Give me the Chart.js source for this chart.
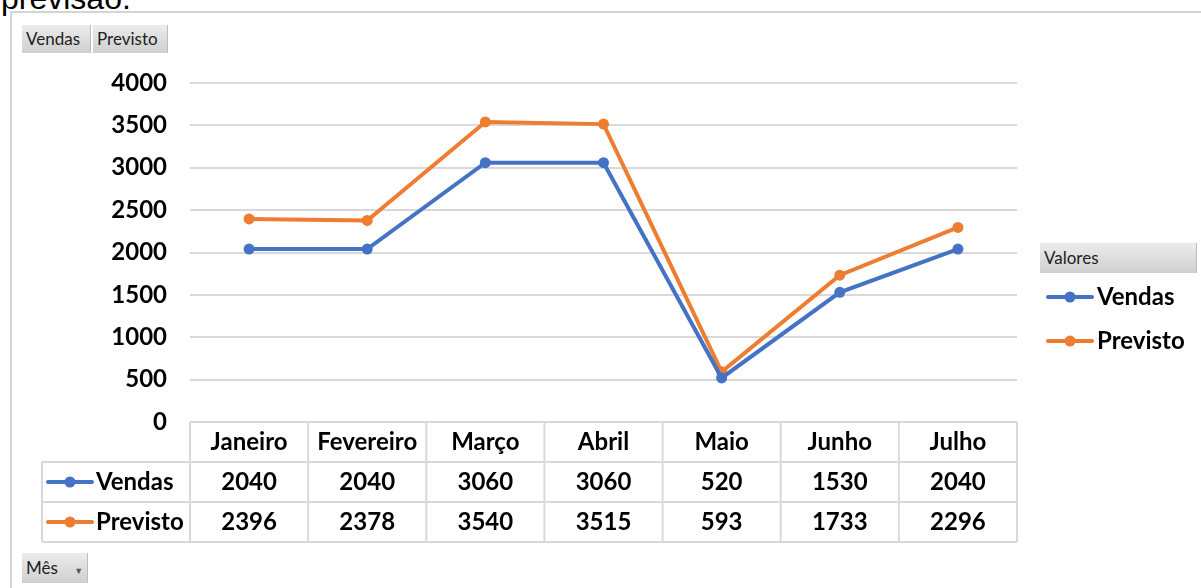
<!DOCTYPE html>
<html lang="pt">
<head>
  <meta charset="UTF-8" />
  <title>Vendas x Previsto</title>
  <style>
    body {
      margin: 0;
      width: 1201px;
      height: 588px;
      overflow: hidden;
      background: #fff;
      position: relative;
      font-family: Lato, 'Open Sans', sans-serif;
    }
    #topText {
      position: absolute;
      left: 1px;
      top: -20px;
      font-family: 'Liberation Sans', Arial, sans-serif;
      font-size: 32px;
      color: #000;
    }
    #frame {
      position: absolute;
      left: 10px;
      top: 11px;
      width: 1200px;
      height: 600px;
      border-left: 2px solid #d4d4d4;
      border-top: 2px solid #d4d4d4;
    }
    .btn {
      position: absolute;
      height: 28px;
      line-height: 28px;
      font-size: 17px;
      color: #222;
      padding-left: 4px;
      box-sizing: border-box;
      background: linear-gradient(#ececec, #cfcfcf);
      border-right: 1px solid #bdbdbd;
    }
    #chartBox {
      position: absolute;
      left: 0;
      top: 0;
      width: 1201px;
      height: 588px;
    }
  </style>
  <script src="https://cdn.jsdelivr.net/npm/chart.js"></script>
</head>
<body>
  <div id="topText">previsão.</div>
  <div id="frame"></div>
  <div id="chartBox"><canvas id="chart" width="1201" height="588"></canvas></div>
  <div class="btn" style="left:22px;top:25px;width:69px;">Vendas</div>
  <div class="btn" style="left:93px;top:25px;width:75px;">Previsto</div>
  <div class="btn" style="left:1040px;top:243px;width:157px;height:30px;line-height:30px;">Valores</div>
  <div class="btn" style="left:22px;top:553px;width:66px;height:30px;line-height:30px;">Mês <span style="font-size:9px;margin-left:12px;color:#555;">&#9660;</span></div>
  <script>
    // chart data
    const meses = ["Janeiro", "Fevereiro", "Março", "Abril", "Maio", "Junho", "Julho"];
    const vendas = [2040, 2040, 3060, 3060, 520, 1530, 2040];
    const previsto = [2396, 2378, 3540, 3515, 593, 1733, 2296];
    const serieNomes = ["Vendas", "Previsto"];
    const cores = ["#4472c4", "#ed7d31"];

    const boldFont = "bold 24px Lato, sans-serif";
    const gridColor = "#d9d9d9";

    function drawKey(ctx, x, y, color) {
      ctx.strokeStyle = color;
      ctx.lineWidth = 4;
      ctx.lineCap = "round";
      ctx.beginPath();
      ctx.moveTo(x, y);
      ctx.lineTo(x + 44, y);
      ctx.stroke();
      ctx.fillStyle = color;
      ctx.beginPath();
      ctx.arc(x + 22, y, 5.5, 0, Math.PI * 2);
      ctx.fill();
    }

    // draws data table under the plot and legend at the right
    const tablePlugin = {
      id: "dataTable",
      afterDraw(chart) {
        const ctx = chart.ctx;
        const xs = chart.scales.x;
        const area = chart.chartArea;
        const n = meses.length;
        const cw = (area.right - area.left) / n;
        const top = area.bottom;
        const rh = 40;
        const leftCol = 42;

        ctx.save();
        ctx.strokeStyle = gridColor;
        ctx.lineWidth = 2;
        ctx.beginPath();
        // horizontal lines
        for (let r = 1; r <= 3; r++) {
          const y = top + r * rh;
          ctx.moveTo(leftCol, y);
          ctx.lineTo(area.right, y);
        }
        // vertical lines
        for (let i = 0; i <= n; i++) {
          const x = area.left + i * cw;
          ctx.moveTo(x, top);
          ctx.lineTo(x, top + 3 * rh);
        }
        ctx.moveTo(leftCol, top + rh);
        ctx.lineTo(leftCol, top + 3 * rh);
        ctx.stroke();

        ctx.font = boldFont;
        ctx.fillStyle = "#000";
        ctx.textAlign = "center";
        ctx.textBaseline = "middle";
        const rows = [vendas, previsto];
        meses.forEach((m, i) => {
          const cx = xs.getPixelForValue(i);
          ctx.fillText(m, cx, top + rh / 2);
          rows.forEach((vals, r) => {
            ctx.fillText(String(vals[i]), cx, top + rh * (r + 1) + rh / 2);
          });
        });

        // row keys
        ctx.textAlign = "left";
        serieNomes.forEach((name, r) => {
          const y = top + rh * (r + 1) + rh / 2;
          drawKey(ctx, 48, y, cores[r]);
          ctx.fillStyle = "#000";
          ctx.fillText(name, 96, y);
        });

        // legend on the right
        serieNomes.forEach((name, r) => {
          const y = 297 + r * 44;
          drawKey(ctx, 1048, y, cores[r]);
          ctx.fillStyle = "#000";
          ctx.fillText(name, 1097, y);
        });
        ctx.restore();
      }
    };

    new Chart(document.getElementById("chart"), {
      type: "line",
      data: {
        labels: meses,
        datasets: [
          {
            label: serieNomes[0],
            data: vendas,
            borderColor: cores[0],
            backgroundColor: cores[0],
            borderWidth: 4,
            pointRadius: 5.5,
            pointHoverRadius: 5.5,
            pointBorderWidth: 0
          },
          {
            label: serieNomes[1],
            data: previsto,
            borderColor: cores[1],
            backgroundColor: cores[1],
            borderWidth: 4,
            pointRadius: 5.5,
            pointHoverRadius: 5.5,
            pointBorderWidth: 0
          }
        ]
      },
      options: {
        responsive: false,
        animation: false,
        layout: { padding: { top: 83, right: 184, bottom: 166, left: 0 } },
        plugins: {
          legend: { display: false },
          tooltip: { enabled: false }
        },
        scales: {
          x: {
            display: false,
            offset: true
          },
          y: {
            min: 0,
            max: 4000,
            afterFit(scale) { scale.width = 190; },
            ticks: {
              stepSize: 500,
              padding: 23,
              color: "#000",
              font: { family: "Lato, sans-serif", size: 24, weight: "bold" },
              callback: (v) => String(v)
            },
            grid: { color: gridColor, lineWidth: 2, drawTicks: false },
            border: { display: false }
          }
        }
      },
      plugins: [tablePlugin]
    });
  </script>
</body>
</html>
